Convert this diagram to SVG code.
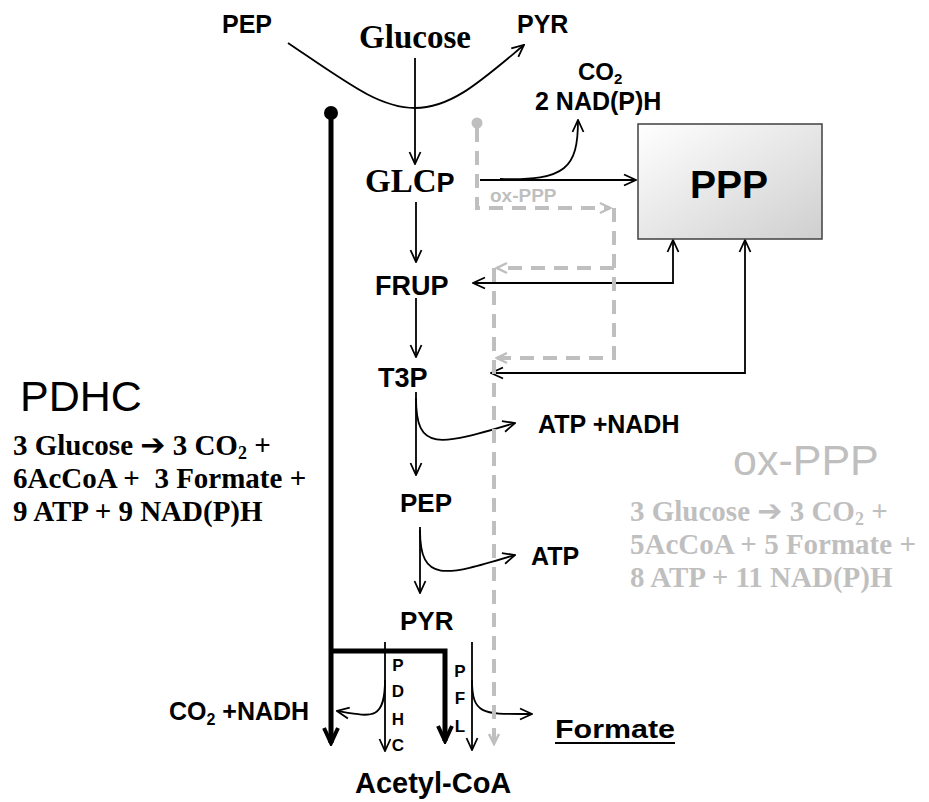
<svg xmlns="http://www.w3.org/2000/svg" width="929" height="802" viewBox="0 0 929 802">
<style>
.lbl{font-family:"Liberation Sans",Arial,sans-serif;font-weight:bold;fill:#000}
.ser{font-family:"Liberation Serif","Times New Roman",serif;font-weight:bold}
.arw{font-family:"DejaVu Sans",sans-serif;font-weight:bold}
.thin{fill:none;stroke:#000;stroke-width:1.8}
.thick{fill:none;stroke:#000;stroke-width:5}
.gdash{fill:none;stroke:#bfbfbf;stroke-width:4;stroke-dasharray:14 9}
</style>
<defs>
<marker id="ah" viewBox="0 0 14 14" refX="13" refY="7" markerWidth="14" markerHeight="14" markerUnits="userSpaceOnUse" orient="auto-start-reverse">
<path d="M1,1.5 L13,7 L1,12.5" fill="none" stroke="#000" stroke-width="1.8"/>
</marker>
<marker id="ahk" viewBox="0 0 20 20" refX="17" refY="10" markerWidth="20" markerHeight="20" markerUnits="userSpaceOnUse" orient="auto">
<path d="M2,3 L17,10 L2,17" fill="none" stroke="#000" stroke-width="4"/>
</marker>
<marker id="ahg" viewBox="0 0 14 14" refX="12" refY="7" markerWidth="14" markerHeight="14" markerUnits="userSpaceOnUse" orient="auto">
<path d="M2,2 L12,7 L2,12" fill="none" stroke="#bfbfbf" stroke-width="2.5"/>
</marker>
<linearGradient id="pppg" x1="0" y1="0" x2="1" y2="1">
<stop offset="0" stop-color="#ffffff"/>
<stop offset="1" stop-color="#cfcfcf"/>
</linearGradient>
</defs>

<g id="connectors">
<path class="thin" d="M288,43 C350,85 380,108 415,108 C452,108 482,80 524,45" marker-end="url(#ah)"/>
<path class="thin" d="M415,58 V164" marker-end="url(#ah)"/>
<path class="thin" d="M480,180 H636" marker-end="url(#ah)"/>
<path class="thin" d="M500,179 C566,181 578,168 578,120" marker-end="url(#ah)"/>
<path class="thin" d="M416,202 V262" marker-end="url(#ah)"/>
<path class="thin" d="M416,298 V357" marker-end="url(#ah)"/>
<path class="thin" d="M673,240 V283 H473" marker-start="url(#ah)" marker-end="url(#ah)"/>
<path class="thin" d="M745,240 V373 H491" marker-start="url(#ah)" marker-end="url(#ah)"/>
<path class="thin" d="M416,392 V475" marker-end="url(#ah)"/>
<path class="thin" d="M416,398 C416,452 438,446 515,423" marker-end="url(#ah)"/>
<path class="thin" d="M420,527 V593" marker-end="url(#ah)"/>
<path class="thin" d="M420,530 C420,584 445,576 515,555" marker-end="url(#ah)"/>
<path class="thin" d="M385,642 V751" marker-end="url(#ah)"/>
<path class="thin" d="M385,680 C385,721 372,717 337,711" marker-end="url(#ah)"/>
<path class="thin" d="M472,642 V750" marker-end="url(#ah)"/>
<path class="thin" d="M472,680 C472,716 484,714 532,714" marker-end="url(#ah)"/>
<circle cx="331" cy="113" r="7" fill="#000"/>
<path class="thick" d="M331,113 V743" marker-end="url(#ahk)"/>
<path class="thick" d="M331,651 H445 V741" marker-end="url(#ahk)"/>
<circle cx="477" cy="123" r="5.5" fill="#bfbfbf"/>
<path class="gdash" d="M477,128 V208 H610" marker-end="url(#ahg)"/>
<path class="gdash" d="M614,208 V358 H497" marker-end="url(#ahg)"/>
<path class="gdash" d="M614,268 H497" marker-end="url(#ahg)"/>
<path class="gdash" d="M494,268 V744" marker-end="url(#ahg)"/>
</g>

<g id="node-pep-top"><text class="lbl" x="222" y="33" font-size="25">PEP</text></g>
<g id="node-glucose"><text class="ser" x="415" y="48" font-size="33" text-anchor="middle">Glucose</text></g>
<g id="node-pyr-top"><text class="lbl" x="517" y="33" font-size="25">PYR</text></g>
<g id="node-co2-nadph">
<text class="lbl" x="578" y="80" font-size="24">CO<tspan font-size="15" dy="4">2</tspan></text>
<text class="lbl" x="535" y="110" font-size="25">2 NAD(P)H</text>
</g>
<g id="node-ppp">
<rect x="638" y="124" width="184" height="115" fill="url(#pppg)" stroke="#404040" stroke-width="1.5"/>
<text class="lbl" x="729" y="198" font-size="39" text-anchor="middle">PPP</text>
</g>
<g id="node-glcp"><text class="ser" x="365" y="192" font-size="33">GLC<tspan class="lbl" font-size="27">P</tspan></text></g>
<g id="node-oxppp-label"><text class="lbl" x="490" y="202" font-size="19" style="fill:#bfbfbf">ox-PPP</text></g>
<g id="node-frup"><text class="lbl" x="375" y="295" font-size="27">FRUP</text></g>
<g id="node-t3p"><text class="lbl" x="378" y="387" font-size="27">T3P</text></g>
<g id="node-atp-nadh"><text class="lbl" x="538" y="433" font-size="25">ATP +NADH</text></g>
<g id="node-pep"><text class="lbl" x="400" y="512" font-size="26">PEP</text></g>
<g id="node-atp"><text class="lbl" x="531" y="565" font-size="25">ATP</text></g>
<g id="node-pyr"><text class="lbl" x="400" y="630" font-size="26">PYR</text></g>
<g id="node-pdhc-letters" font-size="17" text-anchor="middle">
<text class="lbl" x="398" y="671">P</text>
<text class="lbl" x="398" y="697">D</text>
<text class="lbl" x="398" y="725">H</text>
<text class="lbl" x="398" y="751">C</text>
</g>
<g id="node-pfl-letters" font-size="17" text-anchor="middle">
<text class="lbl" x="460" y="677">P</text>
<text class="lbl" x="460" y="704">F</text>
<text class="lbl" x="460" y="732">L</text>
</g>
<g id="node-co2-nadh"><text class="lbl" x="169" y="720" font-size="25">CO<tspan font-size="16" dy="5">2</tspan><tspan dy="-5"> +NADH</tspan></text></g>
<g id="node-formate">
<text class="lbl" x="555" y="738" font-size="26" textLength="120" lengthAdjust="spacingAndGlyphs">Formate</text>
<line x1="555" y1="743" x2="675" y2="743" stroke="#000" stroke-width="2"/>
</g>
<g id="node-acetylcoa"><text class="lbl" x="355" y="793" font-size="29">Acetyl-CoA</text></g>

<g id="node-pdhc-summary">
<text x="20" y="411" font-family="Liberation Sans, Arial, sans-serif" font-size="43" fill="#000">PDHC</text>
<text class="ser" x="13" y="455" font-size="29" fill="#000">3 Glucose <tspan class="arw" font-size="30">➔</tspan> 3 CO<tspan font-size="18" dy="4">2</tspan><tspan dy="-4"> +</tspan></text>
<text class="ser" x="13" y="488" font-size="29" fill="#000" xml:space="preserve">6AcCoA +  3 Formate +</text>
<text class="ser" x="13" y="521" font-size="29" fill="#000">9 ATP + 9 NAD(P)H</text>
</g>
<g id="node-oxppp-summary">
<text x="733" y="475" font-family="Liberation Sans, Arial, sans-serif" font-size="43" fill="#bfbfbf">ox-PPP</text>
<text class="ser" x="630" y="521" font-size="29" fill="#bfbfbf">3 Glucose <tspan class="arw" font-size="30">➔</tspan> 3 CO<tspan font-size="18" dy="4">2</tspan><tspan dy="-4"> +</tspan></text>
<text class="ser" x="630" y="554" font-size="29" fill="#bfbfbf">5AcCoA + 5 Formate +</text>
<text class="ser" x="630" y="587" font-size="29" fill="#bfbfbf">8 ATP + 11 NAD(P)H</text>
</g>
</svg>
